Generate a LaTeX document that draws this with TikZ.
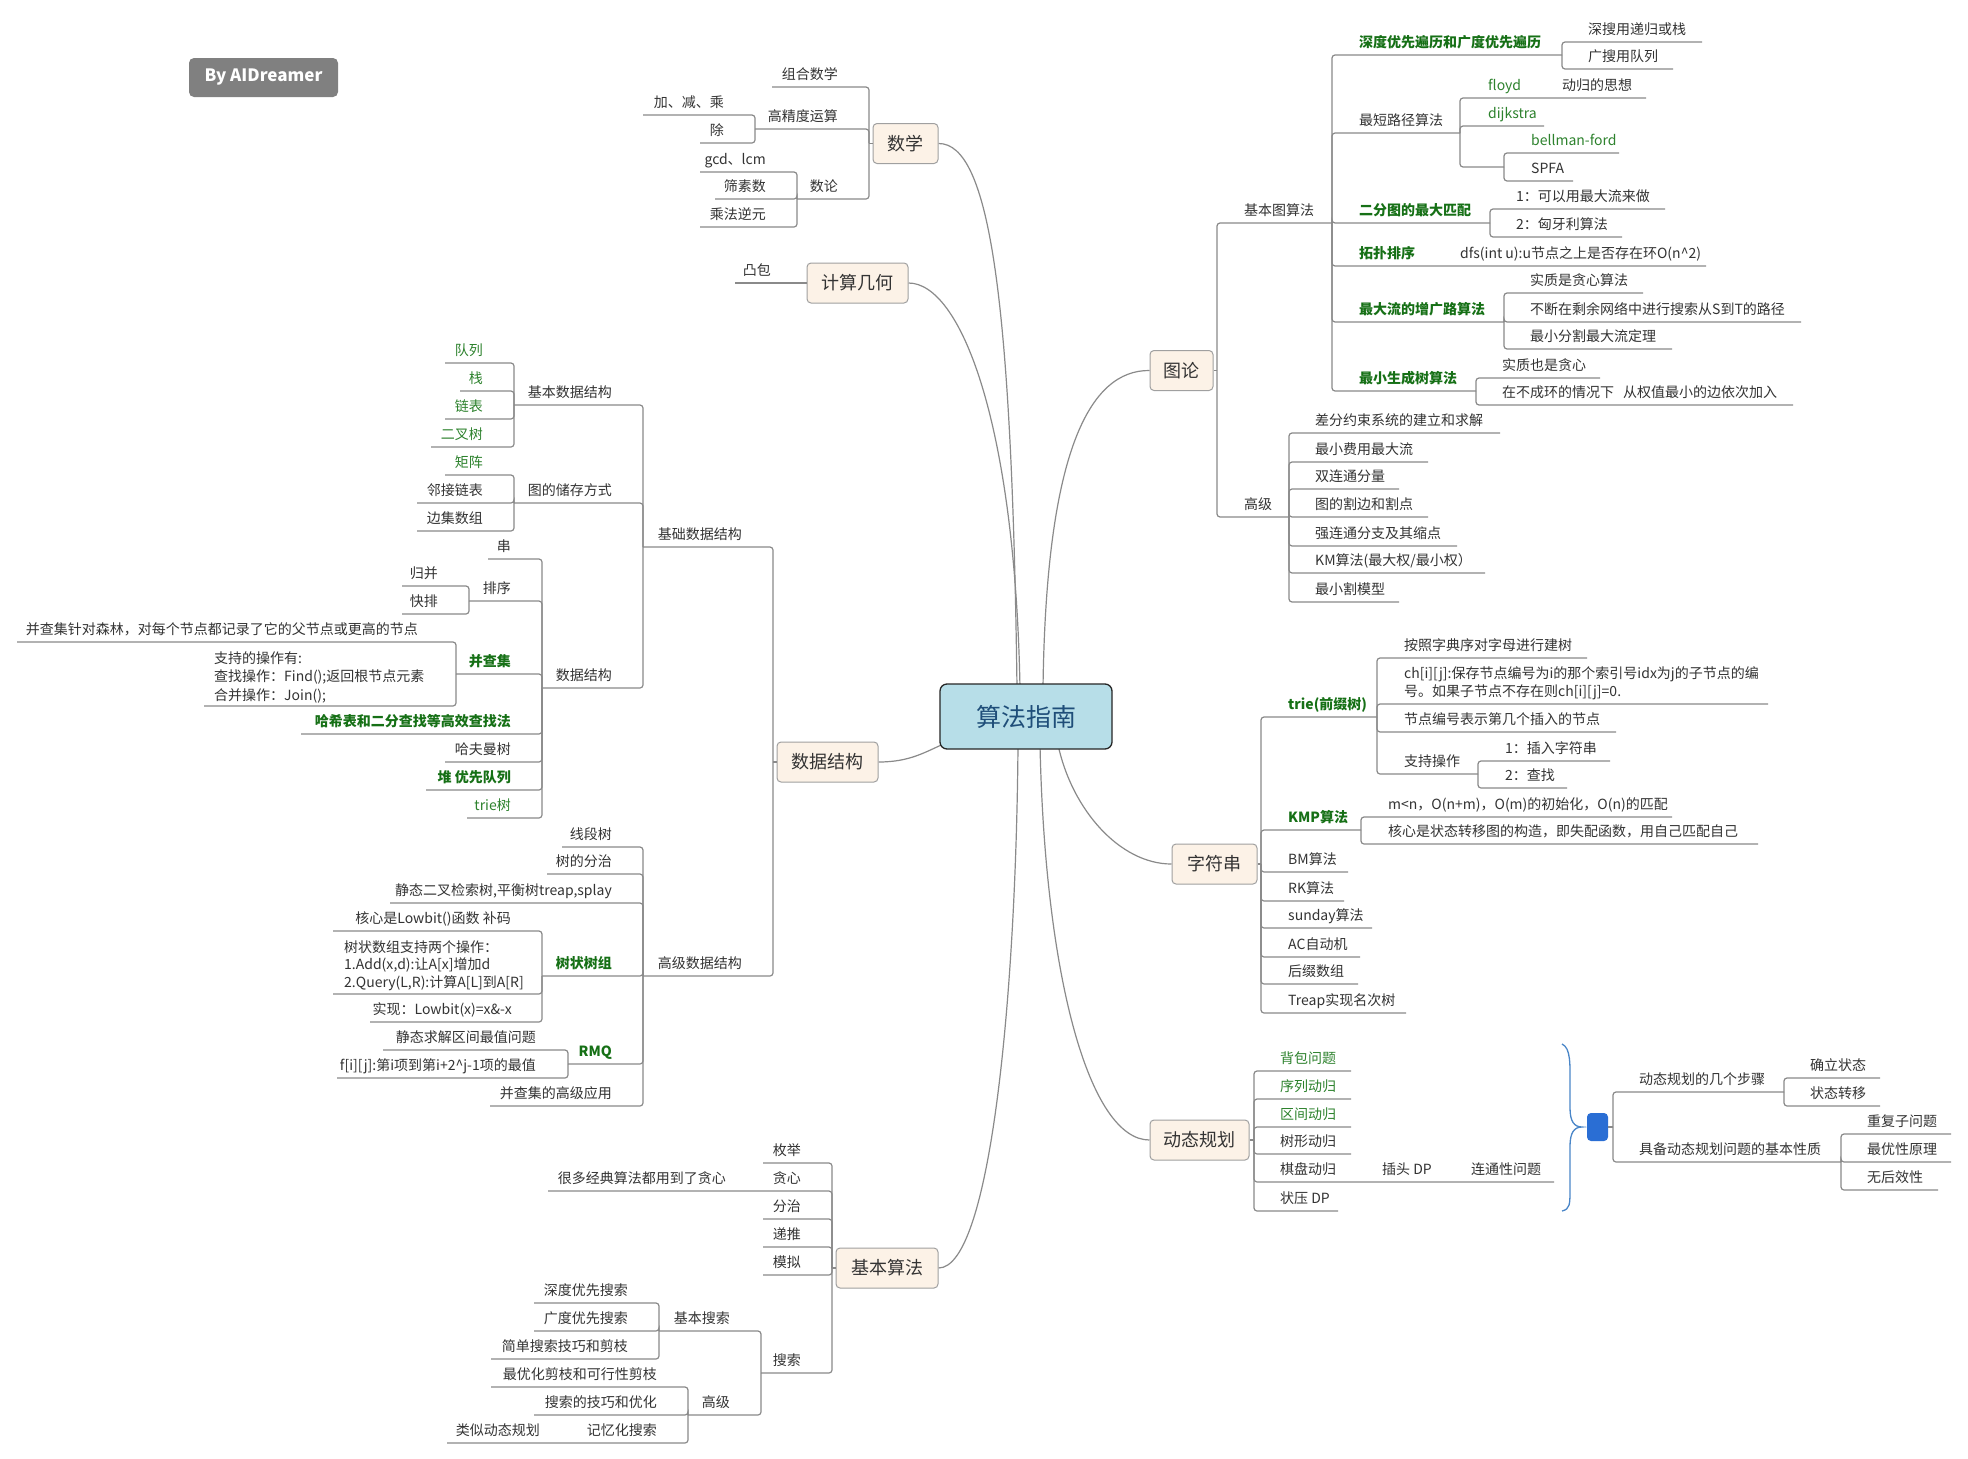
\documentclass[tikz,border=0pt]{standalone}
\usepackage{fontspec}
\setmainfont{Noto Sans CJK SC}
\usetikzlibrary{backgrounds}
\definecolor{lgray}{RGB}{138,138,138}
\definecolor{tdark}{RGB}{51,51,51}
\definecolor{gA}{RGB}{45,130,45}
\definecolor{gB}{RGB}{22,112,22}
\definecolor{tfill}{RGB}{252,242,231}
\definecolor{tborder}{RGB}{160,160,160}
\definecolor{rfill}{RGB}{183,222,232}
\definecolor{rtext}{RGB}{31,78,121}
\definecolor{bblue}{RGB}{74,134,200}
\definecolor{dblue}{RGB}{42,110,212}
\definecolor{badgegray}{RGB}{128,128,128}
\newcommand\myC[4]{\draw[conn] (#1,#2) |- (#3,#4);}
\newcommand\myL[4]{\node[#1,anchor=base east] (#2) at (#3) {#4};}
\newcommand\myR[4]{\node[#1,anchor=base west] (#2) at (#3) {#4};}
\tikzset{
 conn/.style={draw=lgray, line width=1.2pt, rounded corners=3pt},
 curv/.style={draw=lgray, line width=1.2pt},
 lf/.style={inner sep=0pt, text=tdark, font=\fontsize{14}{18}\selectfont},
 gr/.style={lf, text=gA},
 gb/.style={lf, text=gB, font=\fontsize{14}{18}\selectfont\bfseries},
 topic/.style={draw=tborder, fill=tfill, rounded corners=4pt, line width=1pt, text=tdark, font=\fontsize{18}{20}\selectfont, minimum height=40pt, inner sep=0pt},
}
\begin{document}
\begin{tikzpicture}[x=1pt,y=-1pt]
\useasboundingbox (0,0) rectangle (1968,1459);

% badge and main nodes
\node[fill=badgegray, rounded corners=5pt, minimum width=149pt, minimum height=39pt, inner sep=0pt, text=white, font=\fontsize{17}{20}\selectfont\bfseries] (badge) at (263.5,77.5) {By AIDreamer};
\node[draw=black!85, line width=1.3pt, fill=rfill, rounded corners=7pt, minimum width=172pt, minimum height=65pt, inner sep=0pt, text=rtext, font=\fontsize{25}{28}\selectfont] (root) at (1026,716.5) {算法指南};
\node[topic, minimum width=65pt] (math) at (905.5,143.5) {数学};
\node[topic, minimum width=101pt] (geo) at (857.5,283) {计算几何};
\node[topic, minimum width=63pt] (graph) at (1181.5,370.5) {图论};
\node[topic, minimum width=101pt] (ds) at (827.5,762) {数据结构};
\node[topic, minimum width=102pt] (algo) at (887,1268) {基本算法};
\node[topic, minimum width=85pt] (str) at (1214.5,864) {字符串};
\node[topic, minimum width=99pt] (dp) at (1199.5,1140) {动态规划};
\node[fill=dblue, rounded corners=4pt, minimum width=21pt, minimum height=28pt, inner sep=0pt] (dpsum) at (1597.5,1127) {};

% ---------- 数学
\draw[conn] (math.west) -- (869,143.5);
\myL{lf}{m1}{838,79}{组合数学} \myC{869}{143}{772}{87}
\myL{lf}{m2}{838,121}{高精度运算} \myC{869}{143}{755}{129}
\myL{lf}{m21}{724,107}{加、减、乘} \myC{755}{129}{643}{115}
\myL{lf}{m22}{724,135}{除} \myC{755}{129}{700}{143}
\myL{lf}{m3}{838,191}{数论} \myC{869}{143}{797}{199}
\myL{lf}{m31}{766,164}{gcd、lcm} \myC{797}{199}{700}{172}
\myL{lf}{m32}{766,191}{筛素数} \myC{797}{199}{715}{199}
\myL{lf}{m33}{766,219}{乘法逆元} \myC{797}{199}{700}{227}

% ---------- 计算几何
\myL{lf}{g1}{771,275}{凸包}
\draw[conn] (geo.west) -- (735,283);

% ---------- 数据结构
\draw[conn] (ds.west) -- (773,762);
\myL{lf}{d1}{742,539}{基础数据结构} \myC{773}{762}{643}{547}
\myL{lf}{d2}{742,968}{高级数据结构} \myC{773}{762}{643}{976}
\myL{lf}{d11}{612,397}{基本数据结构} \myC{643}{547}{514}{405}
\myL{gr}{d111}{483,355}{队列} \myC{514}{405}{445}{363}
\myL{gr}{d112}{483,383}{栈} \myC{514}{405}{460}{391}
\myL{gr}{d113}{483,411}{链表} \myC{514}{405}{445}{419}
\myL{gr}{d114}{483,439}{二叉树} \myC{514}{405}{431}{447}
\myL{lf}{d12}{612,495}{图的储存方式} \myC{643}{547}{514}{503}
\myL{gr}{d121}{483,467}{矩阵} \myC{514}{503}{445}{475}
\myL{lf}{d122}{483,495}{邻接链表} \myC{514}{503}{417}{503}
\myL{lf}{d123}{483,523}{边集数组} \myC{514}{503}{417}{531}
\myL{lf}{d13}{612,680}{数据结构} \myC{643}{547}{542}{688}
\myL{lf}{d131}{511,551}{串} \myC{542}{688}{488}{559}
\myL{lf}{d132}{511,593}{排序} \myC{542}{688}{469}{601}
\myL{lf}{d1321}{438,578}{归并} \myC{469}{601}{402}{586}
\myL{lf}{d1322}{438,606}{快排} \myC{469}{601}{402}{614}
\myL{gb}{d133}{511,666}{并查集} \myC{542}{688}{456}{674}
\myL{lf}{d1331}{418,634}{并查集针对森林，对每个节点都记录了它的父节点或更高的节点} \myC{456}{674}{17}{642}
\node[lf, align=left, anchor=base west, font=\fontsize{14}{18.3}\selectfont] (d1332) at (214,700) {支持的操作有:\\查找操作：Find();返回根节点元素\\合并操作：Join();};
\myC{456}{674}{204}{706}
\myL{gb}{d134}{511,726}{哈希表和二分查找等高效查找法} \myC{542}{688}{301}{734}
\myL{lf}{d135}{511,754}{哈夫曼树} \myC{542}{688}{445}{762}
\myL{gb}{d136}{511,782}{堆 优先队列} \myC{542}{688}{426}{790}
\myL{gr}{d137}{511,810}{trie树} \myC{542}{688}{467}{818}
\myL{lf}{d21}{612,839}{线段树} \myC{643}{976}{562}{847}
\myL{lf}{d22}{612,866}{树的分治} \myC{643}{976}{547}{874}
\myL{lf}{d23}{612,895}{静态二叉检索树,平衡树treap,splay} \myC{643}{976}{390}{903}
\myL{gb}{d24}{612,968}{树状树组} \myC{643}{976}{542}{976}
\myL{lf}{d241}{511,923}{核心是Lowbit()函数 补码} \myC{542}{976}{333}{931}
\node[lf, align=left, anchor=base west, font=\fontsize{14}{17.5}\selectfont] (d242) at (344,987) {树状数组支持两个操作：\\1.Add(x,d):让A[x]增加d\\2.Query(L,R):计算A[L]到A[R]};
\myC{542}{976}{333}{994}
\myL{lf}{d243}{512,1014}{实现：Lowbit(x)=x\&-x} \myC{542}{976}{370}{1022}
\myL{gb}{d25}{612,1056}{RMQ} \myC{643}{976}{568}{1064}
\myL{lf}{d251}{536,1042}{静态求解区间最值问题} \myC{568}{1064}{383}{1050}
\myL{lf}{d252}{536,1070}{f[i][j]:第i项到第i+2\textasciicircum{}j-1项的最值} \myC{568}{1064}{337}{1078}
\myL{lf}{d26}{612,1098}{并查集的高级应用} \myC{643}{976}{490}{1106}

% ---------- 基本算法
\draw[conn] (algo.west) -- (832,1268);
\myL{lf}{a1}{801,1155}{枚举} \myC{832}{1268}{763}{1163}
\myL{lf}{a2}{801,1183}{贪心} \myC{832}{1268}{548}{1191}
\myL{lf}{a21}{726,1183}{很多经典算法都用到了贪心}
\myL{lf}{a3}{801,1211}{分治} \myC{832}{1268}{763}{1219}
\myL{lf}{a4}{801,1239}{递推} \myC{832}{1268}{763}{1247}
\myL{lf}{a5}{801,1267}{模拟} \myC{832}{1268}{763}{1275}
\myL{lf}{a6}{801,1365}{搜索} \myC{832}{1268}{761}{1373}
\myL{lf}{a61}{730,1323}{基本搜索} \myC{761}{1373}{659}{1331}
\myL{lf}{a611}{628,1295}{深度优先搜索} \myC{659}{1331}{534}{1303}
\myL{lf}{a612}{628,1323}{广度优先搜索} \myC{659}{1331}{534}{1331}
\myL{lf}{a613}{628,1351}{简单搜索技巧和剪枝} \myC{659}{1331}{491}{1359}
\myL{lf}{a62}{730,1407}{高级} \myC{761}{1373}{688}{1415}
\myL{lf}{a621}{657,1379}{最优化剪枝和可行性剪枝} \myC{688}{1415}{491}{1387}
\myL{lf}{a622}{657,1407}{搜索的技巧和优化} \myC{688}{1415}{534}{1415}
\myL{lf}{a623}{657,1435}{记忆化搜索} \myC{688}{1415}{447}{1443}
\myL{lf}{a6231}{540,1435}{类似动态规划}

% ---------- 图论
\draw[conn] (graph.east) -- (1217,370.5);
\myR{lf}{t1}{1244,215}{基本图算法} \myC{1217}{370}{1332}{223}
\myR{gb}{t11}{1359,47}{深度优先遍历和广度优先遍历} \myC{1332}{223}{1562}{55}
\myR{lf}{t111}{1588,34}{深搜用递归或栈} \myC{1562}{55}{1702}{42}
\myR{lf}{t112}{1588,61}{广搜用队列} \myC{1562}{55}{1673}{69}
\myR{lf}{t12}{1359,125}{最短路径算法} \myC{1332}{223}{1460}{133}
\myR{gr}{t121}{1488,90}{floyd} \myC{1460}{133}{1646}{98}
\myR{lf}{t1211}{1562,90}{动归的思想}
\myR{gr}{t122}{1488,118}{dijkstra} \myC{1460}{133}{1544}{126}
\coordinate (t123) at (1504,167); \myC{1460}{133}{1504}{167}
\myR{gr}{t1231}{1531,145}{bellman-ford} \myC{1504}{167}{1619}{153}
\myR{lf}{t1232}{1531,173}{SPFA} \myC{1504}{167}{1573}{181}
\myR{gb}{t13}{1359,215}{二分图的最大匹配} \myC{1332}{223}{1490}{223}
\myR{lf}{t131}{1516,201}{1：可以用最大流来做} \myC{1490}{223}{1665}{209}
\myR{lf}{t132}{1516,229}{2：匈牙利算法} \myC{1490}{223}{1622}{237}
\myR{gb}{t14}{1359,258}{拓扑排序} \myC{1332}{223}{1706}{266}
\myR{lf}{t141}{1460,258}{dfs(int u):u节点之上是否存在环O(n\textasciicircum{}2)}
\myR{gb}{t15}{1359,314}{最大流的增广路算法} \myC{1332}{223}{1504}{322}
\myR{lf}{t151}{1530,285}{实质是贪心算法} \myC{1504}{322}{1643}{293}
\myR{lf}{t152}{1530,314}{不断在剩余网络中进行搜索从S到T的路径} \myC{1504}{322}{1801}{322}
\myR{lf}{t153}{1530,341}{最小分割最大流定理} \myC{1504}{322}{1672}{349}
\myR{gb}{t16}{1359,383}{最小生成树算法} \myC{1332}{223}{1476}{391}
\myR{lf}{t161}{1502,370}{实质也是贪心} \myC{1476}{391}{1600}{378}
\myR{lf}{t162}{1502,397}{在不成环的情况下\hspace{9pt}从权值最小的边依次加入} \myC{1476}{391}{1793}{405}
\myR{lf}{t2}{1244,509}{高级} \myC{1217}{370}{1289}{517}
\myR{lf}{t21}{1315,425}{差分约束系统的建立和求解} \myC{1289}{517}{1500}{433}
\myR{lf}{t22}{1315,454}{最小费用最大流} \myC{1289}{517}{1428}{462}
\myR{lf}{t23}{1315,481}{双连通分量} \myC{1289}{517}{1399}{489}
\myR{lf}{t24}{1315,509}{图的割边和割点} \myC{1289}{517}{1428}{517}
\myR{lf}{t25}{1315,538}{强连通分支及其缩点} \myC{1289}{517}{1457}{546}
\myR{lf}{t26}{1315,565}{KM算法(最大权/最小权）} \myC{1289}{517}{1485}{573}
\myR{lf}{t27}{1315,594}{最小割模型} \myC{1289}{517}{1399}{602}

% ---------- 字符串
\draw[conn] (str.east) -- (1261,864);
\myR{gb}{s1}{1288,709}{trie(前缀树)} \myC{1261}{864}{1377}{717}
\myR{lf}{s11}{1404,650}{按照字典序对字母进行建树} \myC{1377}{717}{1587}{658}
\node[lf, align=left, anchor=base west] (s12) at (1404,696) {ch[i][j]:保存节点编号为i的那个索引号idx为j的子节点的编\\号。如果子节点不存在则ch[i][j]=0.};
\myC{1377}{717}{1768}{704}
\myR{lf}{s13}{1404,724}{节点编号表示第几个插入的节点} \myC{1377}{717}{1616}{732}
\myR{lf}{s14}{1404,766}{支持操作} \myC{1377}{717}{1478}{774}
\myR{lf}{s141}{1505,753}{1：插入字符串} \myC{1478}{774}{1610}{761}
\myR{lf}{s142}{1505,780}{2：查找} \myC{1478}{774}{1567}{788}
\myR{gb}{s2}{1288,822}{KMP算法} \myC{1261}{864}{1361}{830}
\myR{lf}{s21}{1388,809}{m<n，O(n+m)，O(m)的初始化，O(n)的匹配} \myC{1361}{830}{1672}{817}
\myR{lf}{s22}{1388,836}{核心是状态转移图的构造，即失配函数，用自己匹配自己} \myC{1361}{830}{1758}{844}
\myR{lf}{s3}{1288,864}{BM算法} \myC{1261}{864}{1348}{872}
\myR{lf}{s4}{1288,893}{RK算法} \myC{1261}{864}{1344}{901}
\myR{lf}{s5}{1288,920}{sunday算法} \myC{1261}{864}{1372}{928}
\myR{lf}{s6}{1288,949}{AC自动机} \myC{1261}{864}{1360}{957}
\myR{lf}{s7}{1288,976}{后缀数组} \myC{1261}{864}{1358}{984}
\myR{lf}{s8}{1288,1005}{Treap实现名次树} \myC{1261}{864}{1406}{1013}

% ---------- 动态规划
\draw[conn] (dp.east) -- (1254,1140);
\myR{gr}{p1}{1280,1063}{背包问题} \myC{1254}{1140}{1351}{1071}
\myR{gr}{p2}{1280,1091}{序列动归} \myC{1254}{1140}{1351}{1099}
\myR{gr}{p3}{1280,1119}{区间动归} \myC{1254}{1140}{1351}{1127}
\myR{lf}{p4}{1280,1146}{树形动归} \myC{1254}{1140}{1351}{1154}
\myR{lf}{p5}{1280,1174}{棋盘动归} \myC{1254}{1140}{1554}{1182}
\myR{lf}{p51}{1382,1174}{插头 DP}
\myR{lf}{p511}{1471,1174}{连通性问题}
\myR{lf}{p6}{1280,1203}{状压 DP} \myC{1254}{1140}{1338}{1211}

\draw[bblue, line width=1.3pt] (1562,1044) .. controls (1571,1048) and (1570,1065) .. (1570,1085) -- (1570,1108) .. controls (1570,1121) and (1574,1127) .. (1582,1127) .. controls (1574,1127) and (1570,1133) .. (1570,1146) -- (1570,1188) .. controls (1570,1205) and (1570,1209) .. (1562,1211);

\draw[conn] (dpsum.east) -- (1613,1127);
\myR{lf}{q1}{1639,1084}{动态规划的几个步骤} \myC{1613}{1127}{1784}{1092}
\myR{lf}{q11}{1810,1070}{确立状态} \myC{1784}{1092}{1880}{1078}
\myR{lf}{q12}{1810,1098}{状态转移} \myC{1784}{1092}{1880}{1106}
\myR{lf}{q2}{1639,1154}{具备动态规划问题的基本性质} \myC{1613}{1127}{1841}{1162}
\myR{lf}{q21}{1867,1126}{重复子问题} \myC{1841}{1162}{1951}{1134}
\myR{lf}{q22}{1867,1154}{最优性原理} \myC{1841}{1162}{1951}{1162}
\myR{lf}{q23}{1867,1182}{无后效性} \myC{1841}{1162}{1938}{1190}

% ---------- curves from root to topics
\begin{scope}[on background layer]
\fill[white] (0,0) rectangle (1968,1459);
\draw[curv] (math.east) .. controls (990,143) and (1012,300) .. ([xshift=-9pt,yshift=-5pt]root.north);
\draw[curv] (geo.east) .. controls (960,283) and (1015,420) .. ([xshift=-6pt,yshift=-5pt]root.north);
\draw[curv] (graph.west) .. controls (1090,370) and (1046,450) .. ([xshift=17pt,yshift=-5pt]root.north);
\draw[curv] (ds.east) .. controls (910,762) and (925,752) .. ([xshift=5pt,yshift=6pt]root.south west);
\draw[curv] (str.west) .. controls (1120,864) and (1072,810) .. ([xshift=32pt,yshift=5pt]root.south);
\draw[curv] (dp.west) .. controls (1090,1140) and (1045,980) .. ([xshift=14pt,yshift=5pt]root.south);
\draw[curv] (algo.east) .. controls (990,1268) and (1016,1000) .. ([xshift=-8pt,yshift=5pt]root.south);
\end{scope}
\end{tikzpicture}
\end{document}
